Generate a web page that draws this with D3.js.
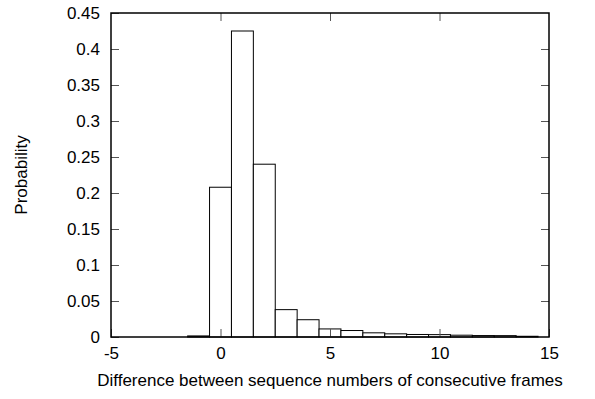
<!DOCTYPE html>
<html>
<head>
<meta charset="utf-8">
<script src="https://cdn.jsdelivr.net/npm/d3@7"></script>
<style>
  body { margin: 0; background: #fff; }
  svg text { font-family: "Liberation Sans", Arial, sans-serif; font-size: 17px; fill: #000; }
</style>
</head>
<body>
<svg id="chart" width="595" height="399"></svg>
<script>
// difference between sequence numbers (bin centres) and their probability
const diffs = [-5, -4, -3, -2, -1, 0, 1, 2, 3, 4, 5, 6, 7, 8, 9, 10, 11, 12, 13, 14];
const probs = [0, 0, 0, 0, 0.0015, 0.208, 0.425, 0.24, 0.038, 0.024, 0.0112, 0.009, 0.0058, 0.0044, 0.0035, 0.0033, 0.0025, 0.002, 0.0019, 0.001];
const xTicks = [-5, 0, 5, 10, 15];
const yTicks = [0, 0.05, 0.1, 0.15, 0.2, 0.25, 0.3, 0.35, 0.4, 0.45];

const margin = { left: 111, right: 46, top: 13, bottom: 62 };
const width = 595, height = 399;

const svg = d3.select('#chart');

const x = d3.scaleLinear()
  .domain([-5, 15])
  .range([margin.left, width - margin.right]);
const y = d3.scaleLinear()
  .domain([0, 0.45])
  .range([height - margin.bottom, margin.top]);

const tickLen = 8;
const fmt = d => d3.format('~g')(d).replace('\u2212', '-');

// bars
const bars = diffs.map((d, i) => ({ d, p: probs[i] })).filter(b => b.p > 0);
svg.append('g')
  .selectAll('rect')
  .data(bars)
  .enter().append('rect')
  .attr('x', b => x(b.d - 0.5))
  .attr('width', b => x(b.d + 0.5) - x(b.d - 0.5))
  .attr('y', b => y(b.p))
  .attr('height', b => y(0) - y(b.p))
  .attr('fill', '#fff')
  .attr('stroke', '#000')
  .attr('stroke-width', 1);

// axes (inward ticks, mirrored)
const axisLeft = d3.axisLeft(y).tickValues(yTicks).tickSizeInner(-tickLen).tickSizeOuter(0)
  .tickPadding(11).tickFormat(fmt);
const axisRight = d3.axisRight(y).tickValues(yTicks.slice(1, -1)).tickSizeInner(-tickLen).tickSizeOuter(0)
  .tickFormat('');
const axisBottom = d3.axisBottom(x).tickValues(xTicks).tickSizeInner(-tickLen).tickSizeOuter(0)
  .tickPadding(10).tickFormat(fmt);
const axisTop = d3.axisTop(x).tickValues(xTicks.slice(1, -1)).tickSizeInner(-tickLen).tickSizeOuter(0)
  .tickFormat('');

function styleAxis(g) {
  g.select('.domain').remove();
  g.selectAll('.tick line').attr('stroke', '#555').attr('stroke-width', 1);
  g.attr('font-size', null).attr('font-family', null);
}

svg.append('g').attr('transform', `translate(${margin.left},0)`).call(axisLeft).call(styleAxis);
svg.append('g').attr('transform', `translate(${width - margin.right},0)`).call(axisRight).call(styleAxis);
svg.append('g').attr('transform', `translate(0,${height - margin.bottom})`).call(axisBottom).call(styleAxis);
svg.append('g').attr('transform', `translate(0,${margin.top})`).call(axisTop).call(styleAxis);

// frame
svg.append('rect')
  .attr('x', margin.left)
  .attr('y', margin.top)
  .attr('width', width - margin.left - margin.right)
  .attr('height', height - margin.top - margin.bottom)
  .attr('fill', 'none')
  .attr('stroke', '#000')
  .attr('stroke-width', 1.5);

// titles
svg.append('text')
  .attr('x', (margin.left + width - margin.right) / 2)
  .attr('y', 386)
  .attr('text-anchor', 'middle')
  .text('Difference between sequence numbers of consecutive frames');

svg.append('text')
  .attr('transform', `translate(27,${(margin.top + height - margin.bottom) / 2}) rotate(-90)`)
  .attr('text-anchor', 'middle')
  .text('Probability');
</script>
</body>
</html>
